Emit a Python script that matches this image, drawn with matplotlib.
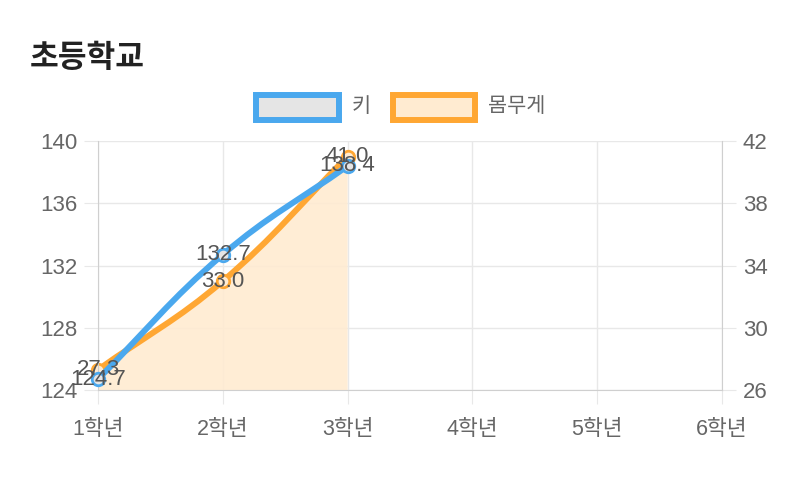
import numpy as np
import matplotlib
matplotlib.use("Agg")
import matplotlib.pyplot as plt
from matplotlib.path import Path
from matplotlib.patches import PathPatch, Rectangle

plt.rcParams['font.family'] = ['Liberation Sans', 'Noto Sans CJK KR', 'DejaVu Sans']

# 데이터
grades = ['1학년', '2학년', '3학년', '4학년', '5학년', '6학년']
height = [124.7, 132.7, 138.4]
weight = [27.3, 33.0, 41.0]
left_ticks = [124, 128, 132, 136, 140]
right_ticks = [26, 30, 34, 38, 42]

BLUE = '#4aa8ee'
ORANGE = '#ffa733'
FILL = '#ffebd1'
GRID = '#e8e8e8'
AXIS = '#cfcfcf'
TXT = '#666666'

W, H = 800, 478
fig = plt.figure(figsize=(8, 4.78), dpi=100)
x0, x1, y0, y1 = 98, 722, 141, 390
rect = [x0 / W, 1 - y1 / H, (x1 - x0) / W, (y1 - y0) / H]
ax2 = fig.add_axes(rect)
ax = fig.add_axes(rect, sharex=ax2)
ax.set_zorder(ax2.get_zorder() + 1)
ax.patch.set_visible(False)

xs = np.arange(len(height))
ax2.set_xlim(0, len(grades) - 1)
ax.set_ylim(left_ticks[0], left_ticks[-1])
ax2.set_ylim(right_ticks[0], right_ticks[-1])
aw, ah = x1 - x0, y1 - y0


def spline_path(xv, yv, ylim, tension=0.4):
    # 곡선 제어점 (chart.js 방식)
    xmin, xmax = 0, len(grades) - 1
    px = (np.asarray(xv, float) - xmin) / (xmax - xmin) * aw
    py = (np.asarray(yv, float) - ylim[0]) / (ylim[1] - ylim[0]) * ah
    n = len(px)
    cps = []
    for i in range(n):
        pp = (px[max(i - 1, 0)], py[max(i - 1, 0)])
        cp = (px[i], py[i])
        nx = (px[min(i + 1, n - 1)], py[min(i + 1, n - 1)])
        d01 = np.hypot(cp[0] - pp[0], cp[1] - pp[1])
        d12 = np.hypot(nx[0] - cp[0], nx[1] - cp[1])
        tot = d01 + d12
        s01 = d01 / tot if tot else 0
        s12 = d12 / tot if tot else 0
        fa, fb = tension * s01, tension * s12
        prev_cp = (cp[0] - fa * (nx[0] - pp[0]), cp[1] - fa * (nx[1] - pp[1]))
        next_cp = (cp[0] + fb * (nx[0] - pp[0]), cp[1] + fb * (nx[1] - pp[1]))
        cps.append((prev_cp, next_cp))

    def back(p):
        return (p[0] / aw * (xmax - xmin) + xmin,
                p[1] / ah * (ylim[1] - ylim[0]) + ylim[0])

    verts = [back((px[0], py[0]))]
    codes = [Path.MOVETO]
    for i in range(1, n):
        verts += [back(cps[i - 1][1]), back(cps[i][0]), back((px[i], py[i]))]
        codes += [Path.CURVE4] * 3
    return verts, codes


# 그리드
for t in right_ticks:
    ax2.axhline(t, color=GRID, lw=1, zorder=0)
for i in range(len(grades)):
    ax2.axvline(i, color=GRID, lw=1, zorder=0)

# 몸무게 (오른쪽 축)
wv, wc = spline_path(xs, weight, ax2.get_ylim())
fill_v = wv + [(xs[-1], right_ticks[0]), (xs[0], right_ticks[0]), wv[0]]
fill_c = wc + [Path.LINETO, Path.LINETO, Path.CLOSEPOLY]
ax2.add_patch(PathPatch(Path(fill_v, fill_c), facecolor=FILL, edgecolor='none', alpha=0.9, zorder=1))
ax2.add_patch(PathPatch(Path(wv, wc), facecolor='none', edgecolor=ORANGE, lw=4.3, zorder=2,
                        capstyle='round', joinstyle='round'))
ax2.plot(xs, weight, 'o', ms=9, mfc=FILL, mec=ORANGE, mew=2, zorder=3, clip_on=False)

# 키 (왼쪽 축)
hv, hc = spline_path(xs, height, ax.get_ylim())
ax.add_patch(PathPatch(Path(hv, hc), facecolor='none', edgecolor=BLUE, lw=4.3, zorder=2,
                       capstyle='round', joinstyle='round'))
ax.plot(xs, height, 'o', ms=9, mfc='#e5e5e5', mec=BLUE, mew=2, zorder=3, clip_on=False)

# 데이터 라벨
for x, v in zip(xs, height):
    ax.text(x, v, f'{v:.1f}', ha='center', va='center', fontsize=16, color='#555555', zorder=5,
            clip_on=False)
for x, v in zip(xs, weight):
    ax.text(x, v, f'{v:.1f}', ha='center', va='center', fontsize=16, color='#555555', zorder=5,
            clip_on=False, transform=ax2.transData)

# 축
ax2.set_xticks(range(len(grades)))
ax2.set_xticklabels(grades)
ax.set_yticks(left_ticks)
ax2.set_yticks(right_ticks)
ax.tick_params(axis='y', length=10, color=GRID, labelsize=16, labelcolor=TXT, pad=5)
ax.tick_params(axis='x', bottom=False, labelbottom=False)
ax2.tick_params(axis='y', left=False, labelleft=False, right=True, labelright=True,
                length=10, color=GRID, labelsize=16, labelcolor=TXT, pad=5)
ax2.tick_params(axis='x', length=10, color=GRID, labelsize=15.5, labelcolor=TXT, pad=11)
for a in (ax, ax2):
    a.spines['top'].set_visible(False)
    for s in ('left', 'right', 'bottom'):
        a.spines[s].set_color(AXIS)
    a.spines['left'].set_visible(a is ax)
    a.spines['right'].set_visible(a is ax2)
    a.spines['bottom'].set_visible(a is ax2)

# 제목
fig.text(30 / W, 1 - 58 / H, '초등학교', fontsize=22.5, fontweight='bold', color='#222222',
         ha='left', va='center', family=['Noto Sans CJK KR', 'DejaVu Sans'])

# 범례
def legend_item(xl, xr, xt, label, face, edge):
    fig.add_artist(Rectangle((xl / W, 1 - 120 / H), (xr - xl) / W, 25 / H, transform=fig.transFigure,
                             facecolor=face, edgecolor=edge, lw=4.3))
    fig.text(xt / W, 1 - 106 / H, label, fontsize=15, color=TXT, ha='left', va='center')

legend_item(256, 339, 352, '키', '#e5e5e5', BLUE)
legend_item(393, 475, 488, '몸무게', FILL, ORANGE)

fig.savefig('out.png', dpi=100)
